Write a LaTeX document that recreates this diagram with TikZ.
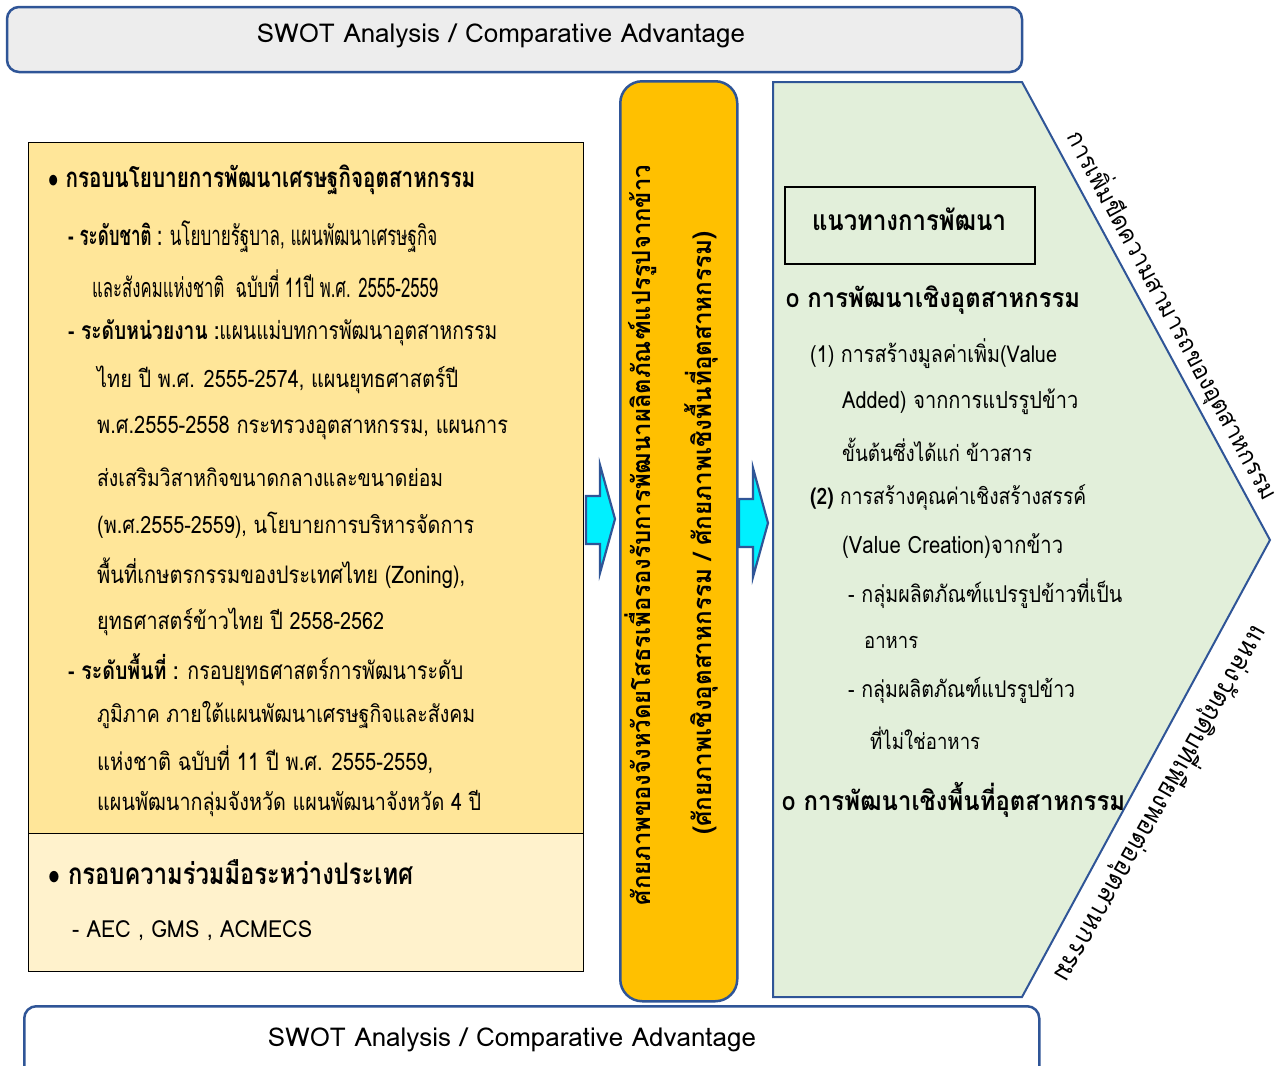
\documentclass[tikz,border=0pt]{standalone}
\usepackage{fontspec}
\setmainfont[Script=Thai]{Loma}
\usepackage{graphicx}
\definecolor{bblue}{HTML}{2F5597}
\definecolor{topgray}{HTML}{EDEDED}
\definecolor{lefty}{HTML}{FFE699}
\definecolor{lowy}{HTML}{FFF2CC}
\definecolor{barY}{HTML}{FFC000}
\definecolor{greenF}{HTML}{E2EFDA}
\definecolor{arrC}{HTML}{00F0FF}
\newcommand{\fitw}[3][0.83]{\resizebox{#2pt}{!}{\scalebox{#1}[1]{#3}}}
\begin{document}
\begin{tikzpicture}[x=1pt,y=-1pt,
  bluebox/.style={draw=bblue, line width=2.5pt},
  txt/.style={inner sep=0pt, anchor=west, text=black},
  ctxt/.style={inner sep=0pt, anchor=center, text=black},
  blockarrow/.style={fill=arrC, draw=bblue, line width=2.2pt, line join=miter}]
\useasboundingbox (0,0) rectangle (1286,1066);
% top and bottom SWOT boxes
\node[bluebox, fill=topgray, rounded corners=12pt, minimum width=1015pt, minimum height=65pt, inner sep=0pt] (swottop) at (514.5,39.5) {};
\node[ctxt] (swottoptext) at (501,36) {\fitw[1]{488}{SWOT Analysis / Comparative Advantage}};
\node[bluebox, fill=white, rounded corners=12pt, minimum width=1015pt, minimum height=90pt, inner sep=0pt, anchor=north west] (swotbot) at (23,1005) {};
\node[ctxt] (swotbottext) at (512,1040) {\fitw[1]{488}{SWOT Analysis / Comparative Advantage}};
% left boxes
\node[draw=black, line width=1.3pt, fill=lefty, minimum width=555pt, minimum height=691pt, inner sep=0pt, anchor=north west] (policy) at (28,142) {};
\node[draw=black, line width=1.3pt, fill=lowy, minimum width=555pt, minimum height=138pt, inner sep=0pt, anchor=north west] (coop) at (28,833) {};
\node[txt] (l1) at (48,180) {\fitw[0.75]{427}{\bfseries $\bullet$ กรอบนโยบายการพัฒนาเศรษฐกิจอุตสาหกรรม}};
\node[txt] (l2) at (68,237) {\fitw[0.62]{369}{\textbf{- ระดับชาติ :} นโยบายรัฐบาล, แผนพัฒนาเศรษฐกิจ}};
\node[txt] (l3) at (92,284) {\fitw[0.62]{346}{และสังคมแห่งชาติ~ ฉบับที่ 11ปี พ.ศ. 2555-2559}};
\node[txt] (l4) at (68,333) {\fitw[0.78]{429}{\textbf{- ระดับหน่วยงาน :}แผนแม่บทการพัฒนาอุตสาหกรรม}};
\node[txt] (l5) at (97,380) {\fitw{361}{ไทย ปี พ.ศ. 2555-2574, แผนยุทธศาสตร์ปี}};
\node[txt] (l6) at (97,428) {\fitw{411}{พ.ศ.2555-2558 กระทรวงอุตสาหกรรม, แผนการ}};
\node[txt] (l7) at (97,477) {\fitw{346}{ส่งเสริมวิสาหกิจขนาดกลางและขนาดย่อม}};
\node[txt] (l8) at (97,525) {\fitw{377}{(พ.ศ.2555-2559), นโยบายการบริหารจัดการ}};
\node[txt] (l9) at (97,573) {\fitw{368}{พื้นที่เกษตรกรรมของประเทศไทย (Zoning),}};
\node[txt] (l10) at (97,622) {\fitw{287}{ยุทธศาสตร์ข้าวไทย ปี 2558-2562}};
\node[txt] (l11) at (68,670) {\fitw[0.8]{395}{\textbf{- ระดับพื้นที่ :} กรอบยุทธศาสตร์การพัฒนาระดับ}};
\node[txt] (l12) at (97,715) {\fitw{378}{ภูมิภาค ภายใต้แผนพัฒนาเศรษฐกิจและสังคม}};
\node[txt] (l13) at (97,760) {\fitw{336}{แห่งชาติ ฉบับที่ 11 ปี พ.ศ. 2555-2559,}};
\node[txt] (l14) at (97,804) {\fitw{384}{แผนพัฒนากลุ่มจังหวัด แผนพัฒนาจังหวัด 4 ปี}};
\node[txt] (l15) at (48,872) {\fitw[0.8]{365}{\bfseries $\bullet$ กรอบความร่วมมือระหว่างประเทศ}};
\node[txt] (l16) at (72,931) {\fitw[0.92]{240}{- AEC , GMS , ACMECS}};
% arrows
\draw[blockarrow] (586,496) -- (600,496) -- (600,465) -- (615,519) -- (600,573) -- (600,544) -- (586,544) -- cycle;
\draw[blockarrow] (739,499) -- (753,499) -- (753,468) -- (768,523) -- (753,577) -- (753,547) -- (739,547) -- cycle;
% yellow bar
\node[bluebox, fill=barY, rounded corners=22pt, minimum width=117pt, minimum height=920pt, inner sep=0pt, anchor=north west] (bar) at (619,80) {};
\node[ctxt, rotate=90] (v1) at (641,535) {\fitw[0.95]{740}{\bfseries ศักยภาพของจังหวัดยโสธรเพื่อรองรับการพัฒนาผลิตภัณฑ์แปรรูปจากข้าว}};
\node[ctxt, rotate=90] (v2) at (701,533) {\fitw[0.95]{603}{\bfseries (ศักยภาพเชิงอุตสาหกรรม / ศักยภาพเชิงพื้นที่อุตสาหกรรม)}};
% green chevron
\draw[fill=greenF, draw=bblue, line width=2pt] (773,82) -- (1022,82) -- (1270,540) -- (1022,997) -- (773,997) -- cycle;
\node[draw=black, line width=1.5pt, fill=greenF, minimum width=250pt, minimum height=77pt, inner sep=0pt, anchor=north west] (guide) at (784,186) {};
\node[ctxt] (guidetext) at (909,219) {\fitw[0.85]{194}{\bfseries แนวทางการพัฒนา}};
\node[txt] (r1) at (786,300) {\fitw[0.9]{294}{\bfseries o การพัฒนาเชิงอุตสาหกรรม}};
\node[txt] (r2) at (810,354) {\fitw[0.85]{247}{(1) การสร้างมูลค่าเพิ่ม(Value}};
\node[txt] (r3) at (842,402) {\fitw[0.85]{236}{Added) จากการแปรรูปข้าว}};
\node[txt] (r4) at (842,450) {\fitw[0.85]{190}{ขั้นต้นซึ่งได้แก่ ข้าวสาร}};
\node[txt] (r5) at (810,498) {\fitw[0.85]{276}{\textbf{(2)} การสร้างคุณค่าเชิงสร้างสรรค์}};
\node[txt] (r6) at (842,546) {\fitw[0.85]{221}{(Value Creation)จากข้าว}};
\node[txt] (r7) at (848,594) {\fitw[0.85]{274}{- กลุ่มผลิตภัณฑ์แปรรูปข้าวที่เป็น}};
\node[txt] (r8) at (864,642) {\fitw[0.85]{54}{อาหาร}};
\node[txt] (r9) at (848,690) {\fitw[0.85]{227}{- กลุ่มผลิตภัณฑ์แปรรูปข้าว}};
\node[txt] (r10) at (870,738) {\fitw[0.85]{110}{ที่ไม่ใช่อาหาร}};
\node[txt] (r11) at (782,800) {\fitw[0.9]{343}{\bfseries o การพัฒนาเชิงพื้นที่อุตสาหกรรม}};
% diagonal labels
\node[ctxt, rotate=-61.6] (d1) at (1173,315) {\fitw[0.95]{415}{การเพิ่มขีดความสามารถของอุตสาหกรรม}};
\node[ctxt, rotate=-119.6] (d2) at (1162,805) {\fitw[0.95]{405}{แหล่งวัตถุดิบที่เพียงพอต่ออุตสาหกรรม}};
\end{tikzpicture}
\end{document}
